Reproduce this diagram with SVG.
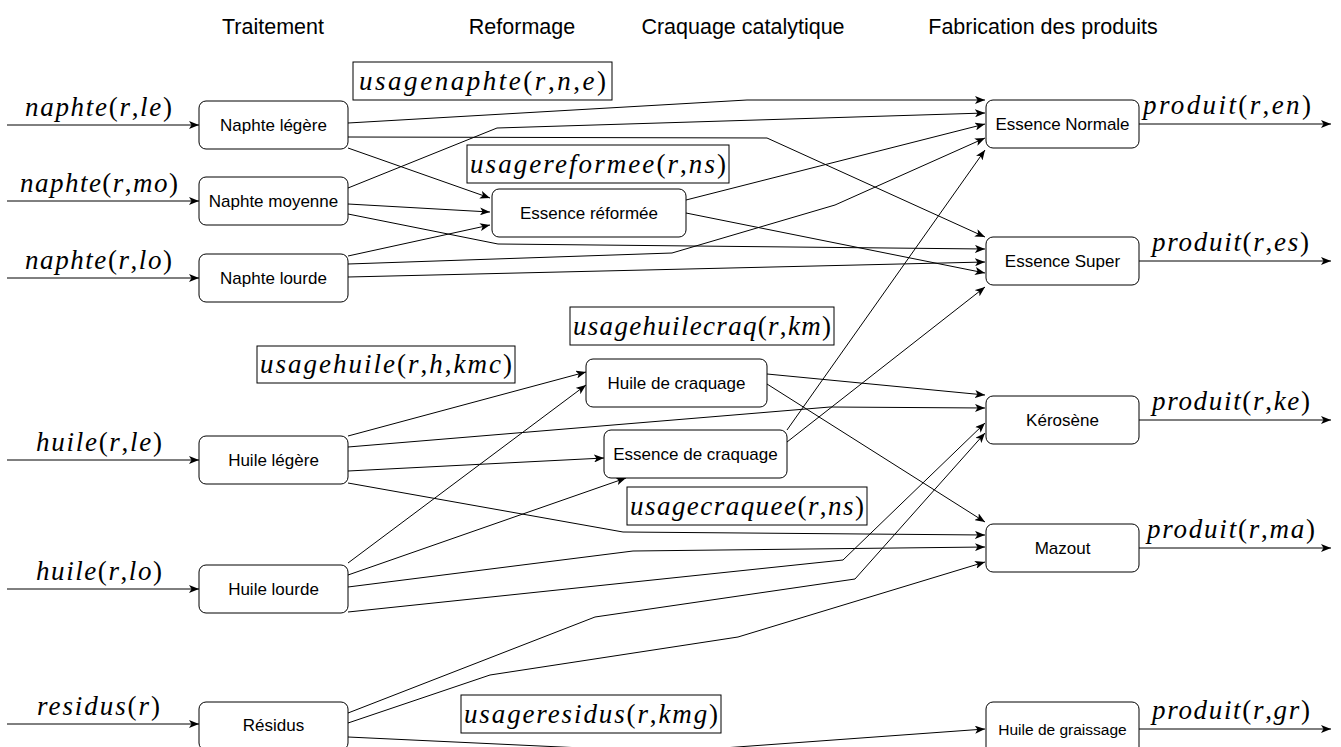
<svg xmlns="http://www.w3.org/2000/svg" width="1341" height="747" viewBox="0 0 1341 747">
<style>
.bg{fill:#fff}
.n rect{fill:#fff;stroke:#000;stroke-width:1}
.t{font-family:"Liberation Sans",Arial,sans-serif;font-size:17px;text-anchor:middle;fill:#000}
.h{font-family:"Liberation Sans",Arial,sans-serif;font-size:21.5px;text-anchor:middle;fill:#000}
.m{font-family:"Liberation Serif","Times New Roman",serif;font-size:27px;fill:#000}
.i{font-style:italic}
.lb rect{fill:none;stroke:#000;stroke-width:1}
.c path{fill:none;stroke:#000;stroke-width:1;marker-end:url(#ah)}
</style>
<defs>
<marker id="ah" markerUnits="userSpaceOnUse" markerWidth="11" markerHeight="8" refX="10" refY="4" orient="auto">
<path d="M0,0 L10,4 L0,8 L2.5,4 Z" fill="#000" stroke="none"/>
</marker>
</defs>
<rect class="bg" x="0" y="0" width="1341" height="747"/>

<g id="headers">
<text class="h" x="273" y="34">Traitement</text>
<text class="h" x="522" y="34">Reformage</text>
<text class="h" x="743" y="34">Craquage catalytique</text>
<text class="h" x="1043" y="34">Fabrication des produits</text>
</g>

<g id="connectors" class="c">
<path d="M7,125 L199,125"/>
<path d="M7,201 L199,201"/>
<path d="M7,278 L199,278"/>
<path d="M7,460 L199,460"/>
<path d="M7,589 L199,589"/>
<path d="M7,724 L199,724"/>
<path d="M348,123 L747,100 L985,100"/>
<path d="M348,137 L767,138 L985,237"/>
<path d="M348,148 L490,198"/>
<path d="M348,188 L497,128 L985,113"/>
<path d="M348,204 L490,212"/>
<path d="M348,214 L498,244 L985,249"/>
<path d="M348,256 L490,225"/>
<path d="M348,264 L672,253 L835,205 L985,138"/>
<path d="M348,277 L985,262"/>
<path d="M686,200 L985,124"/>
<path d="M686,213 L985,273"/>
<path d="M348,436 L586,372"/>
<path d="M348,447 L830,407 L985,408"/>
<path d="M348,471 L604,458"/>
<path d="M348,483 L623,532 L985,535"/>
<path d="M348,563 L586,385"/>
<path d="M348,575 L626,478"/>
<path d="M348,587 L633,551 L985,547"/>
<path d="M348,612 L843,560 L985,423"/>
<path d="M348,713 L595,617 L855,579 L985,433"/>
<path d="M348,723 L490,675 L738,637 L985,562"/>
<path d="M348,737 L668,752 L985,729"/>
<path d="M767,374 L985,395"/>
<path d="M767,384 L985,522"/>
<path d="M787,430 L985,150"/>
<path d="M787,442 L985,287"/>
<path d="M1139,124 L1331,124"/>
<path d="M1139,261 L1331,261"/>
<path d="M1139,420 L1331,420"/>
<path d="M1139,548 L1331,548"/>
<path d="M1139,729 L1331,729"/>
</g>

<g id="flow-labels">
<text class="m" x="25" y="116" textLength="147" lengthAdjust="spacing"><tspan class="i">naphte</tspan>(<tspan class="i">r</tspan>,<tspan class="i">le</tspan>)</text>
<text class="m" x="20" y="192" textLength="158" lengthAdjust="spacing"><tspan class="i">naphte</tspan>(<tspan class="i">r</tspan>,<tspan class="i">mo</tspan>)</text>
<text class="m" x="25" y="269" textLength="147" lengthAdjust="spacing"><tspan class="i">naphte</tspan>(<tspan class="i">r</tspan>,<tspan class="i">lo</tspan>)</text>
<text class="m" x="36" y="451" textLength="126" lengthAdjust="spacing"><tspan class="i">huile</tspan>(<tspan class="i">r</tspan>,<tspan class="i">le</tspan>)</text>
<text class="m" x="36" y="580" textLength="126" lengthAdjust="spacing"><tspan class="i">huile</tspan>(<tspan class="i">r</tspan>,<tspan class="i">lo</tspan>)</text>
<text class="m" x="37" y="715" textLength="123" lengthAdjust="spacing"><tspan class="i">residus</tspan>(<tspan class="i">r</tspan>)</text>
<text class="m" x="1143" y="114" textLength="168" lengthAdjust="spacing"><tspan class="i">produit</tspan>(<tspan class="i">r</tspan>,<tspan class="i">en</tspan>)</text>
<text class="m" x="1152" y="251" textLength="157" lengthAdjust="spacing"><tspan class="i">produit</tspan>(<tspan class="i">r</tspan>,<tspan class="i">es</tspan>)</text>
<text class="m" x="1152" y="410" textLength="158" lengthAdjust="spacing"><tspan class="i">produit</tspan>(<tspan class="i">r</tspan>,<tspan class="i">ke</tspan>)</text>
<text class="m" x="1147" y="538" textLength="168" lengthAdjust="spacing"><tspan class="i">produit</tspan>(<tspan class="i">r</tspan>,<tspan class="i">ma</tspan>)</text>
<text class="m" x="1152" y="719" textLength="158" lengthAdjust="spacing"><tspan class="i">produit</tspan>(<tspan class="i">r</tspan>,<tspan class="i">gr</tspan>)</text>
</g>

<g id="usage-labels" class="lb">
<g id="lb-usagenaphte"><rect x="353" y="62" width="259" height="38"/>
<text class="m" x="359" y="90" textLength="247" lengthAdjust="spacing"><tspan class="i">usagenaphte</tspan>(<tspan class="i">r</tspan>,<tspan class="i">n</tspan>,<tspan class="i">e</tspan>)</text></g>
<g id="lb-usagereformee"><rect x="467" y="145" width="262" height="38"/>
<text class="m" x="470" y="173" textLength="256" lengthAdjust="spacing"><tspan class="i">usagereformee</tspan>(<tspan class="i">r</tspan>,<tspan class="i">ns</tspan>)</text></g>
<g id="lb-usagehuilecraq"><rect x="570" y="307" width="264" height="38"/>
<text class="m" x="573" y="335" textLength="258" lengthAdjust="spacing"><tspan class="i">usagehuilecraq</tspan>(<tspan class="i">r</tspan>,<tspan class="i">km</tspan>)</text></g>
<g id="lb-usagehuile"><rect x="257" y="346" width="258" height="37"/>
<text class="m" x="260" y="373" textLength="252" lengthAdjust="spacing"><tspan class="i">usagehuile</tspan>(<tspan class="i">r</tspan>,<tspan class="i">h</tspan>,<tspan class="i">kmc</tspan>)</text></g>
<g id="lb-usagecraquee"><rect x="627" y="487" width="240" height="38"/>
<text class="m" x="630" y="515" textLength="234" lengthAdjust="spacing"><tspan class="i">usagecraquee</tspan>(<tspan class="i">r</tspan>,<tspan class="i">ns</tspan>)</text></g>
<g id="lb-usageresidus"><rect x="461" y="695" width="260" height="38"/>
<text class="m" x="464" y="723" textLength="254" lengthAdjust="spacing"><tspan class="i">usageresidus</tspan>(<tspan class="i">r</tspan>,<tspan class="i">kmg</tspan>)</text></g>
</g>

<g id="nodes">
<g id="naphte-legere" class="n"><rect x="199" y="101" width="149" height="48" rx="7"/><text class="t" x="273.5" y="131">Naphte légère</text></g>
<g id="naphte-moyenne" class="n"><rect x="199" y="177" width="149" height="48" rx="7"/><text class="t" x="273.5" y="207">Naphte moyenne</text></g>
<g id="naphte-lourde" class="n"><rect x="199" y="254" width="149" height="48" rx="7"/><text class="t" x="273.5" y="284">Naphte lourde</text></g>
<g id="huile-legere" class="n"><rect x="199" y="436" width="149" height="48" rx="7"/><text class="t" x="273.5" y="466">Huile légère</text></g>
<g id="huile-lourde" class="n"><rect x="199" y="565" width="149" height="48" rx="7"/><text class="t" x="273.5" y="595">Huile lourde</text></g>
<g id="residus" class="n"><rect x="199" y="702" width="149" height="48" rx="7"/><text class="t" x="273.5" y="731">Résidus</text></g>
<g id="essence-reformee" class="n"><rect x="492" y="189" width="194" height="48" rx="7"/><text class="t" x="589" y="219">Essence réformée</text></g>
<g id="huile-craquage" class="n"><rect x="586" y="359" width="181" height="48" rx="7"/><text class="t" x="676.5" y="389">Huile de craquage</text></g>
<g id="essence-craquage" class="n"><rect x="604" y="430" width="183" height="48" rx="7"/><text class="t" x="695.5" y="460">Essence de craquage</text></g>
<g id="essence-normale" class="n"><rect x="986" y="100" width="153" height="48" rx="7"/><text class="t" x="1062.5" y="130">Essence Normale</text></g>
<g id="essence-super" class="n"><rect x="986" y="237" width="153" height="48" rx="7"/><text class="t" x="1062.5" y="267">Essence Super</text></g>
<g id="kerosene" class="n"><rect x="986" y="396" width="153" height="48" rx="7"/><text class="t" x="1062.5" y="426">Kérosène</text></g>
<g id="mazout" class="n"><rect x="986" y="524" width="153" height="48" rx="7"/><text class="t" x="1062.5" y="554">Mazout</text></g>
<g id="huile-graissage" class="n"><rect x="986" y="702" width="153" height="54" rx="7"/><text class="t" x="1062.5" y="735" style="font-size:15.5px">Huile de graissage</text></g>
</g>
</svg>
